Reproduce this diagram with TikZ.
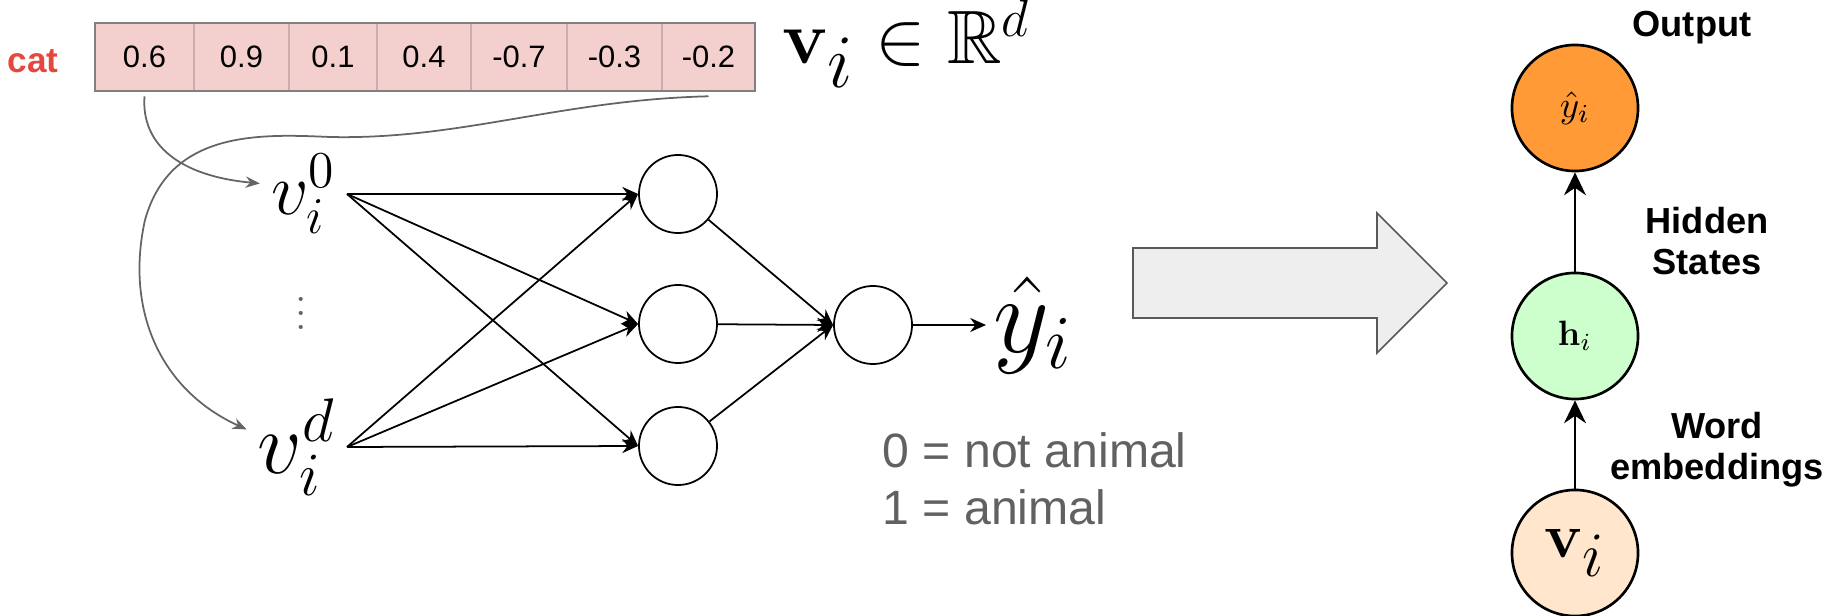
\RequirePackage{fix-cm}
\documentclass[tikz,border=0pt]{standalone}
\usepackage{amssymb}
\usepackage[no-math]{fontspec}
\newfontfamily\lsans{Liberation Sans}
\usetikzlibrary{arrows.meta}

\definecolor{catred}{RGB}{229,72,62}
\definecolor{cellpink}{RGB}{243,207,206}
\definecolor{celledge}{RGB}{205,172,172}
\definecolor{curvegray}{RGB}{100,100,100}
\definecolor{notegray}{RGB}{97,97,97}
\definecolor{outorange}{RGB}{255,154,54}
\definecolor{hidgreen}{RGB}{204,255,204}
\definecolor{embpeach}{RGB}{255,230,204}
\definecolor{bigfill}{RGB}{238,238,238}
\definecolor{bigedge}{RGB}{89,89,89}

\tikzset{
  cellbox/.style={draw=celledge, fill=cellpink, line width=0.4pt, minimum height=0.68cm,
    inner sep=0pt, outer sep=0pt, anchor=west, font=\lsans\fontsize{8.8}{10}\selectfont},
  neuron/.style={circle, draw, line width=0.5pt, minimum size=0.78cm, inner sep=0pt},
  unit/.style={circle, draw, line width=0.75pt, minimum size=1.26cm, inner sep=0pt},
  feed/.style={->, line width=0.5pt, >={Stealth[length=4.5pt,width=4pt]}},
  pick/.style={->, draw=curvegray, line width=0.5pt, >={Stealth[length=4pt,width=3.2pt]}},
  tag/.style={font=\lsans\bfseries\fontsize{10.3}{11.6}\selectfont, align=center},
}

\begin{document}
\begin{tikzpicture}[x=0.01cm, y=-0.01cm, >={Stealth[length=6.5pt,width=6.2pt]}]
    \useasboundingbox (0,0) rectangle (1833,616);

    % Embedding of the word
    \node[text=catred, font=\lsans\bfseries\fontsize{10}{12}\selectfont] (word) at (33,61) {cat};
    \foreach \x/\w/\val [count=\k] in {95/99/0.6, 194/95/0.9, 289/88/0.1, 377/94/0.4, 471/96/-0.7, 567/95/-0.3, 662/93/-0.2}
        \node[cellbox, minimum width=\w*0.01cm] (c\k) at (\x,57) {\val};
    \draw[line width=0.5pt, draw=gray] (c1.north west) rectangle (c7.south east);
    \node[font=\fontsize{21.5}{24}\selectfont, anchor=base west, inner sep=0pt] (vecdef) at (782,64) {$\mathbf{v}_{\textstyle i}\in\mathbb{R}^d$};

    % Input components
    \node[font=\fontsize{21}{24}\selectfont, anchor=east, inner sep=3pt] (v0) at (347,194) {$v_i^0$};
    \node[text=curvegray, font=\fontsize{12}{14}\selectfont] (dots) at (301,303) {$\vdots$};
    \node[font=\fontsize{25}{28}\selectfont, anchor=east, inner sep=3pt] (vd) at (347,447) {$v_i^d$};

    % Curves from the table to the inputs
    \draw[pick] ([yshift=-1.5pt]c1.south) .. controls (141,145) and (180,176) .. ([yshift=3pt]v0.west);
    \draw[pick] ([yshift=-1.5pt]c7.south) .. controls (560,100) and (460,140) .. (330,137)
        .. controls (260,134) and (170,130) .. (145,220)
        .. controls (125,310) and (160,390) .. ([yshift=5pt]vd.west);

    % Network
    \node[neuron] (h1) at (678,194) {};
    \node[neuron] (h2) at (678,324) {};
    \node[neuron] (h3) at (678,446) {};
    \node[neuron] (out) at (873,325) {};
    \node[font=\fontsize{31}{34}\selectfont, anchor=west, inner sep=2pt] (yhat) at (986,325) {$\hat{y}_i$};
    \foreach \s in {v0,vd}
        \foreach \t in {h1,h2,h3}
            \draw[feed] (\s.east) -- (\t.west);
    \foreach \t in {h1,h2,h3}
        \draw[feed] (\t) -- (out.west);
    \draw[feed] (out.east) -- (yhat.west);
    \node[text=notegray, font=\lsans\fontsize{13.7}{16.3}\selectfont, align=left, anchor=north west, inner sep=0pt] (legend) at (882,432) {0 = not animal\\1 = animal};

    % Big arrow
    \draw[draw=bigedge, fill=bigfill, line width=0.45pt] (1133,248) -- (1377,248) -- (1377,213) -- (1447,283)
        -- (1377,353) -- (1377,318) -- (1133,318) -- cycle;

    % Simplified model
    \node[unit, fill=outorange, font=\fontsize{10.5}{12}\selectfont] (yout) at (1575,108) {$\hat{y}_i$};
    \node[unit, fill=hidgreen, font=\fontsize{10}{12}\selectfont] (hid) at (1575,336) {$\mathbf{h}_i$};
    \node[unit, fill=embpeach, font=\fontsize{18}{20}\selectfont] (emb) at (1575,553) {$\mathbf{v}_{\textstyle i}$};
    \draw[->, line width=0.7pt] (emb) -- (hid);
    \draw[->, line width=0.7pt] (hid) -- (yout);
    \node[tag] (outlbl) at (1692,28) {Output};
    \node[tag] (hidlbl) at (1707,241) {Hidden\\States};
    \node[tag] (emblbl) at (1717,450) {Word\\embeddings};
\end{tikzpicture}
\end{document}
